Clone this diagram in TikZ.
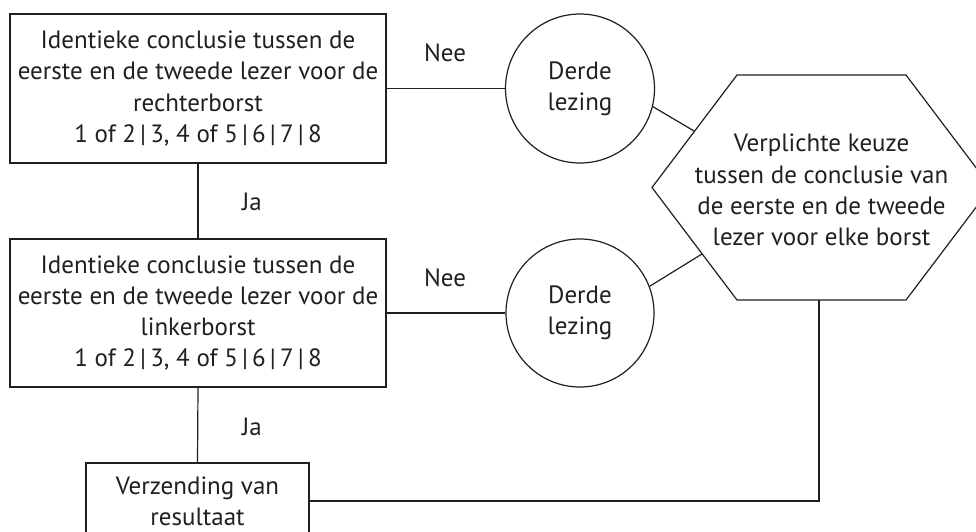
\documentclass[tikz,border=0pt]{standalone}
\usepackage{fontspec}
\setmainfont{PT Sans}
\usetikzlibrary{calc}
\definecolor{ink}{HTML}{231F20}
\tikzset{
  base/.style={font=\fontsize{25}{31.3}\selectfont, text=ink, align=center, inner sep=0pt},
  rbox/.style={base, draw=ink, line width=1.2pt, rectangle},
  rcirc/.style={base, draw=ink, line width=1.2pt, circle},
  conn/.style={draw=ink, line width=1.2pt},
  lbl/.style={base}
}
\begin{document}
\begin{tikzpicture}[x=1pt,y=-1pt]
\clip (0,0) rectangle (976,531);
\fill[white] (0,0) rectangle (976,531);

\node[rbox, minimum width=376pt, minimum height=149pt] (b1) at (198,88.5)
  {Identieke conclusie tussen de\\eerste en de tweede lezer voor de\\rechterborst\\1 of 2\,|\,3, 4 of 5\,|\,6\,|\,7\,|\,8};
\node[rbox, minimum width=376pt, minimum height=148pt] (b2) at (198,313)
  {Identieke conclusie tussen de\\eerste en de tweede lezer voor de\\linkerborst\\1 of 2\,|\,3, 4 of 5\,|\,6\,|\,7\,|\,8};
\node[rbox, minimum width=223pt, minimum height=76pt] (b3) at (197.5,501)
  {Verzending van\\resultaat};

\node[rcirc, minimum size=149pt] (c1) at (580,88.5) {Derde\\lezing};
\node[rcirc, minimum size=148pt] (c2) at (580,313) {Derde\\lezing};

\node[base] (hex) at (821.5,190) {Verplichte keuze\\tussen de conclusie van\\de eerste en de tweede\\lezer voor elke borst};
\coordinate (htl) at (737,75);
\coordinate (htr) at (906,75);
\coordinate (hr) at (991,187.5);
\coordinate (hbr) at (906,300);
\coordinate (hbl) at (737,300);
\coordinate (hl) at (652,187.5);
\draw[conn, line join=miter] (htl) -- (htr) -- (hr) -- (hbr) -- (hbl) -- (hl) -- cycle;
\coordinate (h1) at ($(hl)!0.5!(htl)$);
\coordinate (h2) at ($(hl)!0.59!(hbl)$);
\coordinate (hb) at (819,300);

\draw[conn] (b1.south) -- (b2.north);
\draw[conn] (b2.south) -- (b3.north);
\draw[conn] (b1.east) -- (c1.west);
\draw[conn] (b2.east) -- (c2.west);
\draw[conn] (c1.-14) -- (h1);
\draw[conn] (c2.21) -- (h2);
\draw[conn] (b3.east) -| (hb);

\node[lbl] (nee1) at (445,52.5) {Nee};
\node[lbl] (nee2) at (445,278) {Nee};
\node[lbl] (ja1) at (252,201.5) {Ja};
\node[lbl] (ja2) at (252,427) {Ja};
\end{tikzpicture}
\end{document}
